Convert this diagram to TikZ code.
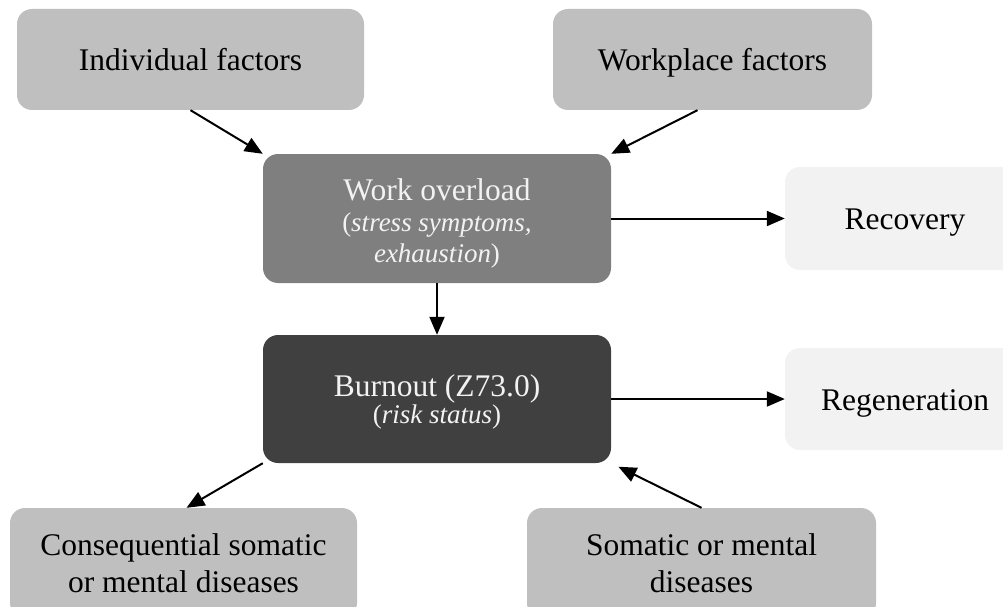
\documentclass[tikz,border=0pt]{standalone}
\usepackage{fontspec}
\setmainfont{Liberation Serif}
\usetikzlibrary{arrows.meta}
\definecolor{boxgrey}{HTML}{BFBFBF}
\definecolor{midgrey}{HTML}{7F7F7F}
\definecolor{darkgrey}{HTML}{404040}
\definecolor{palegrey}{HTML}{F2F2F2}
\newcommand{\subtext}{\fontsize{27}{27}\selectfont}
\begin{document}
\begin{tikzpicture}[x=1pt,y=-1pt,
  box/.style={rounded corners=15pt, inner sep=0pt, align=center,
    font=\fontsize{31.5}{35}\selectfont, text height=26pt, text depth=4pt},
  factor/.style={box, fill=boxgrey, text=black},
  overload/.style={box, fill=midgrey, text=palegrey},
  burnout/.style={box, fill=darkgrey, text=palegrey},
  outcome/.style={box, fill=palegrey, text=black},
  arr/.style={-{Triangle[length=18pt,width=15pt]}, line width=2pt, black}]
\useasboundingbox (0,0) rectangle (1003,607);
\clip (0,0) rectangle (1003,607);

% causes
\node[factor, minimum width=347pt, minimum height=101pt] (ind) at (190.5,59.5) {Individual factors};
\node[factor, minimum width=319pt, minimum height=101pt] (wp) at (712.5,59.5) {Workplace factors};

% central stages
\node[overload, minimum width=348pt, minimum height=129pt,
  font=\fontsize{31.5}{31}\selectfont, text height=91pt, text depth=4pt] (wo) at (437,218.5)
  {Work overload\\{\subtext(\textit{stress symptoms,}}\\{\subtext\textit{exhaustion})}};
\node[burnout, minimum width=348pt, minimum height=128pt,
  font=\fontsize{31.5}{27}\selectfont, text height=52pt, text depth=4pt] (bo) at (437,399)
  {Burnout (Z73.0)\\{\subtext(\textit{risk status})}};

% outcomes on the right
\node[outcome, minimum width=240pt, minimum height=103pt] (rec) at (905,218.5) {Recovery};
\node[outcome, minimum width=240pt, minimum height=102pt] (reg) at (905,399) {Regeneration};

% diseases
\node[factor, minimum width=347pt, minimum height=110pt,
  font=\fontsize{31.5}{37}\selectfont, text height=62pt, text depth=4pt] (cons) at (183.5,563)
  {Consequential somatic\\or mental diseases};
\node[factor, minimum width=349pt, minimum height=110pt,
  font=\fontsize{31.5}{37}\selectfont, text height=62pt, text depth=4pt] (som) at (701.5,563)
  {Somatic or mental\\diseases};

% connectors
\draw[arr] (ind.south) -- (wo.north west);
\draw[arr] ([xshift=-15pt]wp.south) -- (wo.north east);
\draw[arr] (wo.south) -- (bo.north);
\draw[arr] (wo.east) -- (rec.west);
\draw[arr] (bo.east) -- (reg.west);
\draw[arr] (bo.south west) -- ([xshift=3pt]cons.north);
\draw[arr, shorten >=8pt] (som.north) -- (bo.south east);
\end{tikzpicture}
\end{document}
